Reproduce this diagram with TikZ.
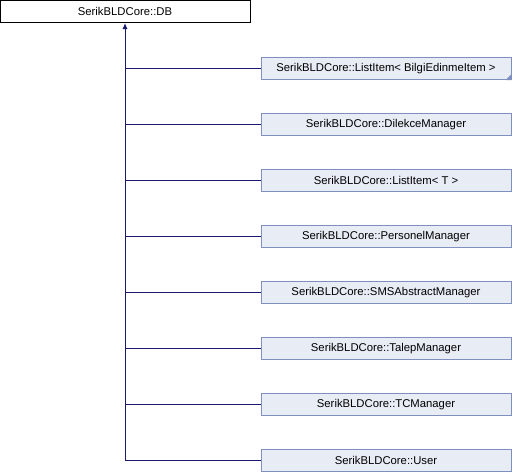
\documentclass[tikz,border=0pt]{standalone}
\usepackage{fontspec}
\setmainfont{Liberation Sans}
\usetikzlibrary{arrows.meta}
\definecolor{edgeblue}{HTML}{191970}
\definecolor{boxfill}{HTML}{E8ECF5}
\definecolor{boxline}{HTML}{7F8FC0}
\begin{document}
\begin{tikzpicture}[x=1pt,y=-1pt,line width=1pt,
        font=\fontsize{11.3}{13}\selectfont,
        basebox/.style={draw=black, fill=white, minimum width=250pt, minimum height=22pt, inner sep=0pt},
        derivedbox/.style={draw=boxline, fill=boxfill, minimum width=250pt, minimum height=22pt, inner sep=0pt},
        inherit/.style={draw=edgeblue, -{Latex[length=6pt,width=5pt]}}]
        \useasboundingbox (0,0) rectangle (512,472);
        \node[basebox] (db) at (125,11.5) {SerikBLDCore::DB};
        \foreach \l [count=\i from 0] in {SerikBLDCore::ListItem< BilgiEdinmeItem >,
            SerikBLDCore::DilekceManager, SerikBLDCore::ListItem< T >,
            SerikBLDCore::PersonelManager, SerikBLDCore::SMSAbstractManager,
            SerikBLDCore::TalepManager, SerikBLDCore::TCManager, SerikBLDCore::User} {
            \node[derivedbox] (c\i) at (386,68.5+56*\i) {\l};
            \draw[edgeblue] (db.south |- c\i) -- (c\i.west);
        }
        \fill[boxline] (c0.south east) -- ++(-6,0) -- ++(6,-6) -- cycle;
        \coordinate (trunk) at (db.south |- c7);
        \draw[inherit] (trunk) -- (db.south);
        \end{tikzpicture}
\end{document}
